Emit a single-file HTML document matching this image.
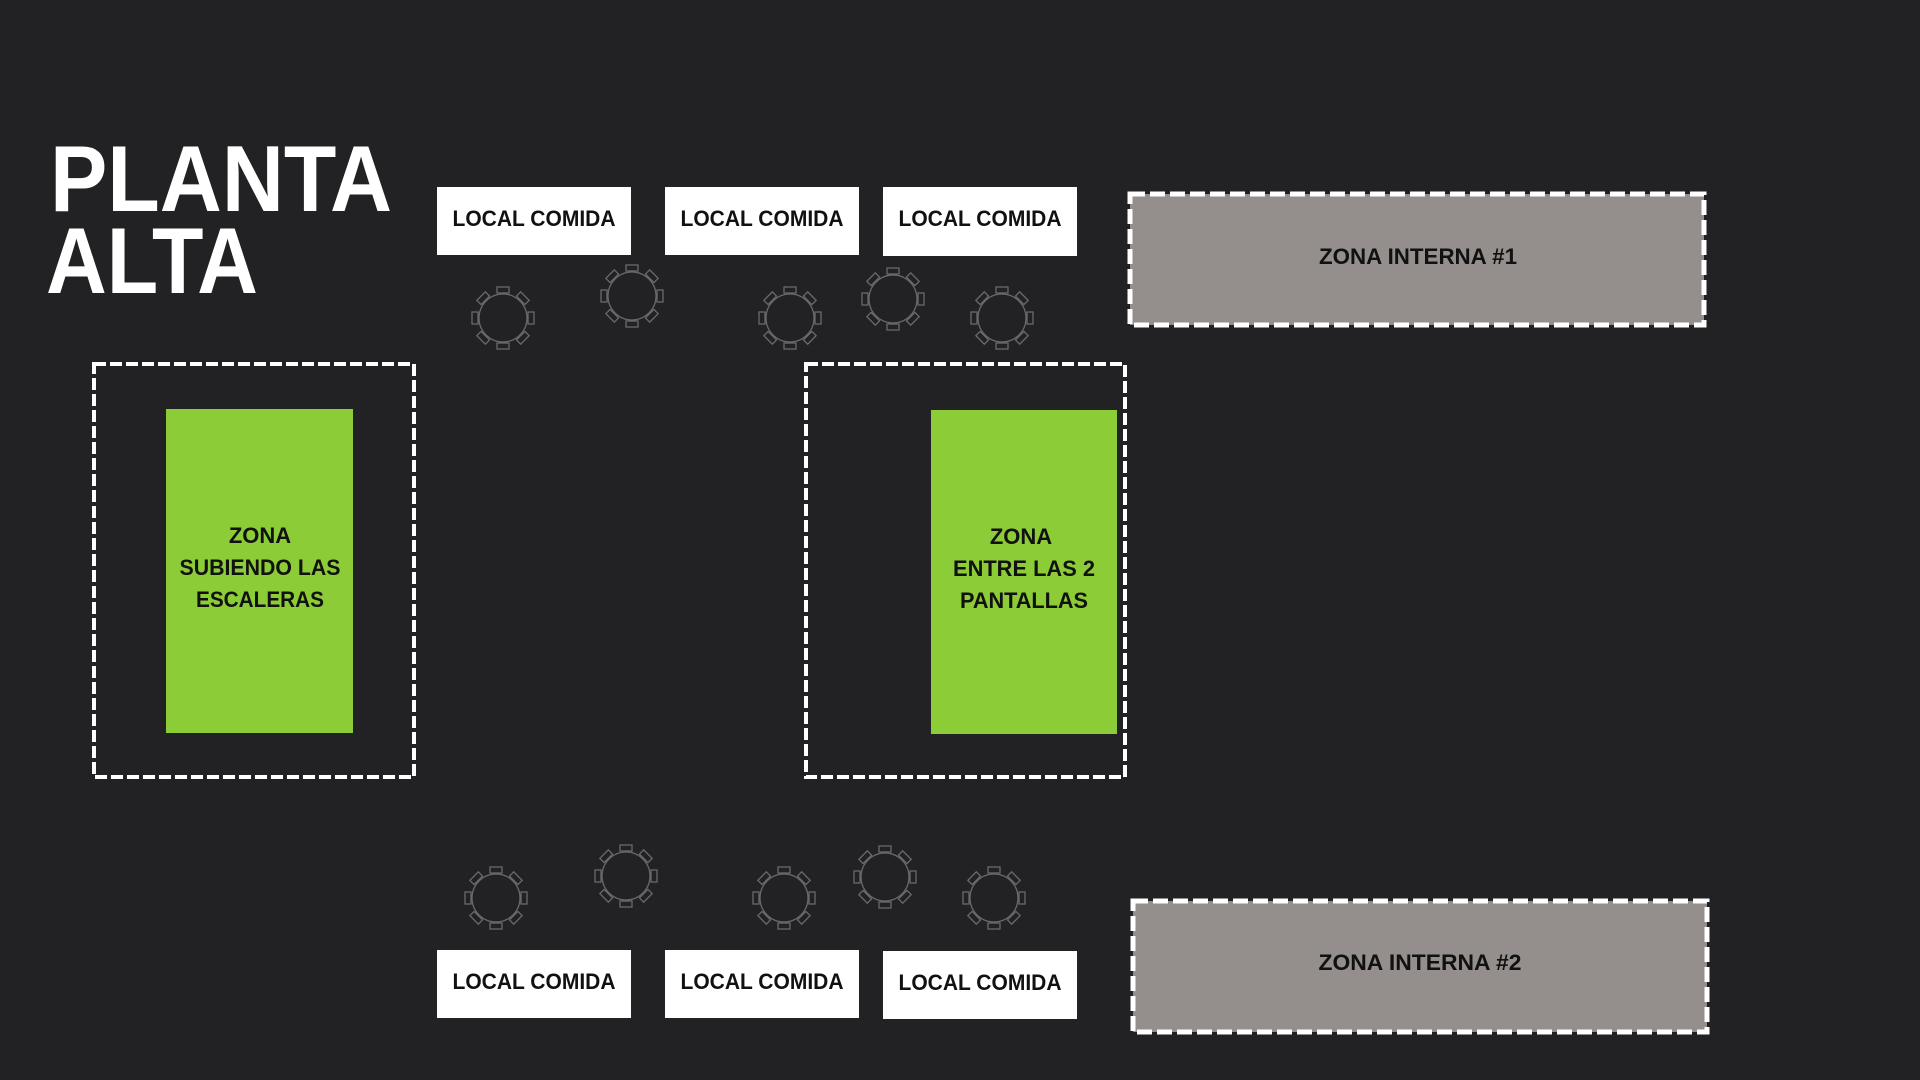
<!DOCTYPE html>
<html><head><meta charset="utf-8"><style>
html,body{margin:0;padding:0;background:#222224;}
svg{display:block}
text{font-family:"Liberation Sans",sans-serif;font-weight:bold;}
</style></head><body>
<svg width="1920" height="1080" viewBox="0 0 1920 1080" xmlns="http://www.w3.org/2000/svg">
<defs>
<g id="tbl" fill="none" stroke="#6a6a6c" stroke-width="1.3">
<circle r="24"/>
<g id="ch"><rect x="-6" y="-31" width="12" height="6"/></g>
<use href="#ch" transform="rotate(45)"/><use href="#ch" transform="rotate(90)"/><use href="#ch" transform="rotate(135)"/>
<use href="#ch" transform="rotate(180)"/><use href="#ch" transform="rotate(225)"/><use href="#ch" transform="rotate(270)"/><use href="#ch" transform="rotate(315)"/>
</g>
</defs>
<rect width="1920" height="1080" fill="#222224"/>
<text x="50" y="211" font-size="94" fill="#fff" textLength="342" lengthAdjust="spacingAndGlyphs">PLANTA</text>
<text x="46" y="293" font-size="94" fill="#fff" textLength="212" lengthAdjust="spacingAndGlyphs">ALTA</text>

<g fill="#fff">
<rect x="437" y="187" width="194" height="68"/>
<rect x="665" y="187" width="194" height="68"/>
<rect x="883" y="187" width="194" height="69"/>
<rect x="437" y="950" width="194" height="68"/>
<rect x="665" y="950" width="194" height="68"/>
<rect x="883" y="951" width="194" height="68"/>
</g>
<g font-size="22" fill="#111" text-anchor="middle">
<text x="534" y="226" textLength="163" lengthAdjust="spacingAndGlyphs">LOCAL COMIDA</text>
<text x="762" y="226" textLength="163" lengthAdjust="spacingAndGlyphs">LOCAL COMIDA</text>
<text x="980" y="226" textLength="163" lengthAdjust="spacingAndGlyphs">LOCAL COMIDA</text>
<text x="534" y="989" textLength="163" lengthAdjust="spacingAndGlyphs">LOCAL COMIDA</text>
<text x="762" y="989" textLength="163" lengthAdjust="spacingAndGlyphs">LOCAL COMIDA</text>
<text x="980" y="990" textLength="163" lengthAdjust="spacingAndGlyphs">LOCAL COMIDA</text>
</g>

<rect x="1130" y="194" width="574" height="131" fill="#948e8c" stroke="#fff" stroke-width="5" stroke-dasharray="15 5"/>
<rect x="1133" y="901" width="574" height="131" fill="#948e8c" stroke="#fff" stroke-width="5" stroke-dasharray="15 5"/>
<text x="1418" y="264" font-size="22" fill="#111" text-anchor="middle" textLength="198" lengthAdjust="spacingAndGlyphs">ZONA INTERNA #1</text>
<text x="1420" y="970" font-size="22" fill="#111" text-anchor="middle" textLength="203" lengthAdjust="spacingAndGlyphs">ZONA INTERNA #2</text>

<rect x="94" y="364" width="320" height="413" fill="none" stroke="#fff" stroke-width="4" stroke-dasharray="12 4"/>
<rect x="806" y="364" width="319" height="413" fill="none" stroke="#fff" stroke-width="4" stroke-dasharray="12 4"/>
<rect x="166" y="409" width="187" height="324" fill="#8bcc37"/>
<rect x="931" y="410" width="186" height="324" fill="#8bcc37"/>
<g font-size="22" fill="#111" text-anchor="middle">
<text x="260" y="543">ZONA</text>
<text x="260" y="575" textLength="161" lengthAdjust="spacingAndGlyphs">SUBIENDO LAS</text>
<text x="260" y="607" textLength="128" lengthAdjust="spacingAndGlyphs">ESCALERAS</text>
<text x="1021" y="544">ZONA</text>
<text x="1024" y="576" textLength="142" lengthAdjust="spacingAndGlyphs">ENTRE LAS 2</text>
<text x="1024" y="608" textLength="128" lengthAdjust="spacingAndGlyphs">PANTALLAS</text>
</g>

<use href="#tbl" x="503" y="318"/>
<use href="#tbl" x="632" y="296"/>
<use href="#tbl" x="790" y="318"/>
<use href="#tbl" x="893" y="299"/>
<use href="#tbl" x="1002" y="318"/>
<use href="#tbl" x="496" y="898"/>
<use href="#tbl" x="626" y="876"/>
<use href="#tbl" x="784" y="898"/>
<use href="#tbl" x="885" y="877"/>
<use href="#tbl" x="994" y="898"/>
</svg>
</body></html>
